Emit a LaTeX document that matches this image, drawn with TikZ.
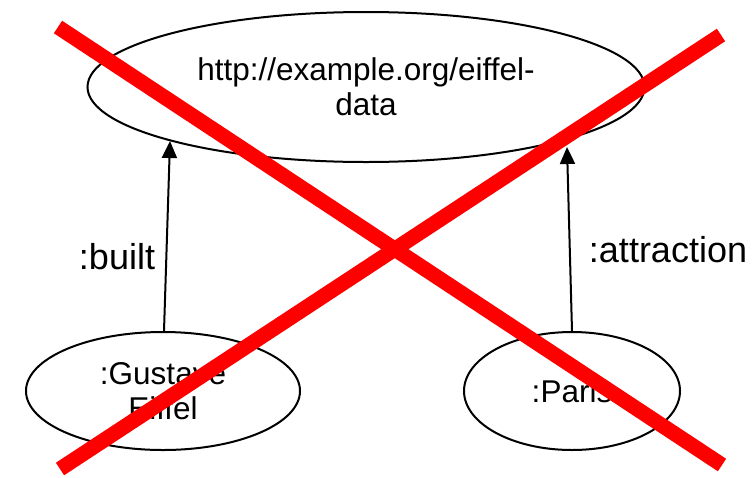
\documentclass[tikz,border=0pt]{standalone}
\usepackage{fontspec}
\setmainfont{Liberation Sans}
\usetikzlibrary{shapes.geometric,arrows.meta}
\begin{document}
\begin{tikzpicture}[x=1pt,y=-1pt,
  res/.style={ellipse, draw=black, line width=2pt, inner sep=0pt,
    align=center, font=\fontsize{31.5}{35}\selectfont},
  lbl/.style={font=\fontsize{36}{40}\selectfont, inner sep=0pt},
  rel/.style={line width=2pt, -{Triangle[length=17pt,width=15pt]}},
  cross/.style={red, line width=15pt, line cap=butt}]
\useasboundingbox (0,0) rectangle (754,477);

% graph name and its two resources
\node[res, minimum width=557pt, minimum height=150pt] (data) at (366,87)
  {http://example.org/eiffel-\\data};
\node[res, minimum width=274pt, minimum height=118pt] (gustave) at (163,391)
  {:Gustave\\Eiffel};
\node[res, minimum width=216pt, minimum height=118pt] (paris) at (572,391)
  {:Paris};

% where the relations meet the graph ellipse
\coordinate (builtEnd) at (170,141);
\coordinate (attrEnd) at (567,147);

\draw[rel] (gustave.north -| 164,0) -- (builtEnd);
\draw[rel] (paris.north) -- (attrEnd);

\node[lbl] (built) at (117,257) {:built};
\node[lbl] (attraction) at (668,250) {:attraction};

% struck-through mark
\coordinate (xa) at (58,27);
\coordinate (xb) at (722,465);
\coordinate (xc) at (721,35);
\coordinate (xd) at (60,469);
\draw[cross] (xa) -- (xb);
\draw[cross] (xc) -- (xd);
\end{tikzpicture}
\end{document}
